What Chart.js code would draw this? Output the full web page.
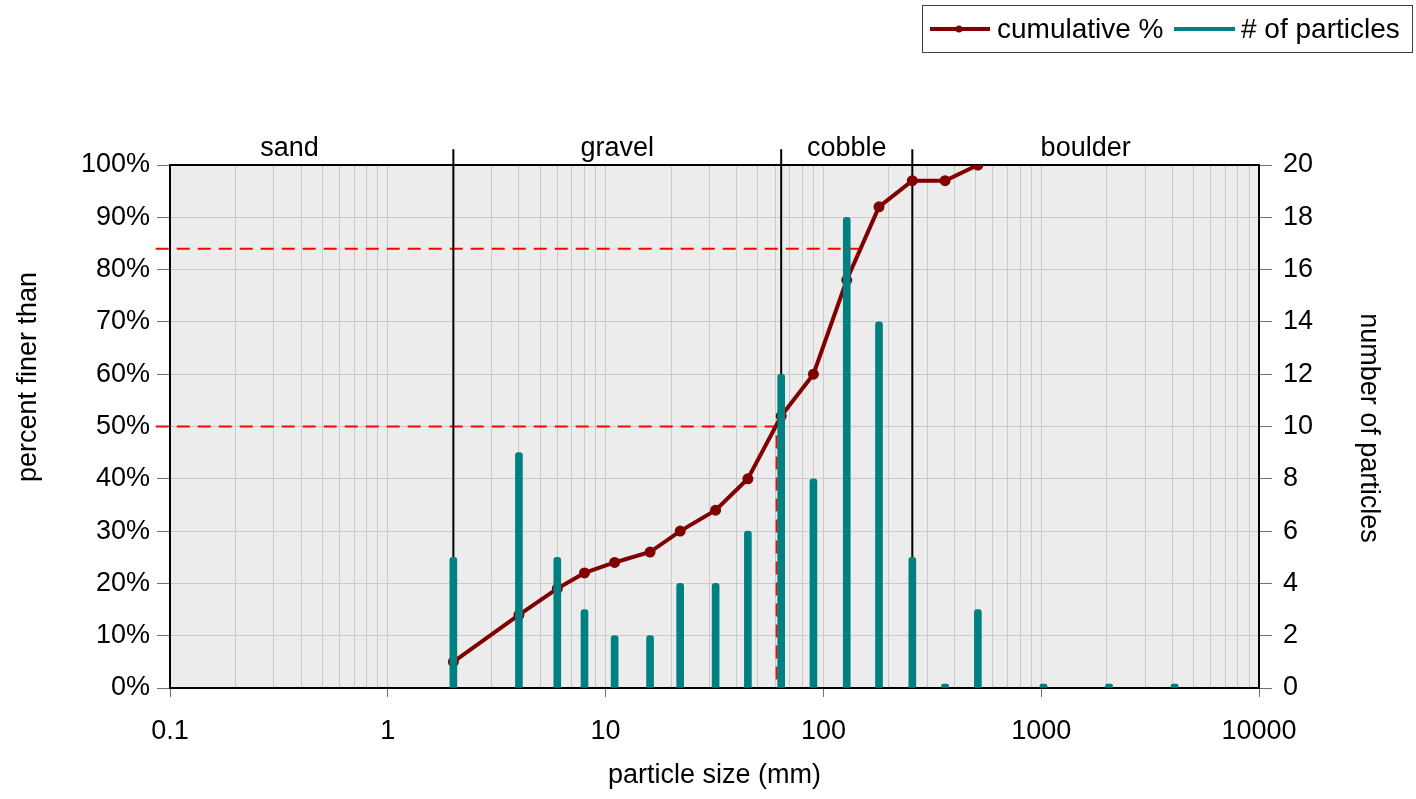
<!DOCTYPE html>
<html>
<head>
<meta charset="utf-8">
<script src="https://cdn.jsdelivr.net/npm/chart.js@4/dist/chart.umd.min.js"></script>
<style>
    html, body { margin: 0; padding: 0; background: #fff; }
    #wrap { width: 1416px; height: 799px; position: relative; }
</style>
</head>
<body>
<div id="wrap"><canvas id="chart" width="1416" height="799"></canvas></div>
<script>
// sieve sizes (mm) and cumulative percent finer
const sizes = [2, 4, 6, 8, 11, 16, 22, 32, 45, 64, 90, 128, 180, 256, 362, 512];
const cumulative = [5, 14, 19, 22, 24, 26, 30, 34, 40, 52, 60, 78, 92, 97, 97, 100];

// particle counts per size class
const countSizes = [2, 4, 6, 8, 11, 16, 22, 32, 45, 64, 90, 128, 180, 256, 362, 512, 1024, 2048, 4096];
const counts = [5, 9, 5, 3, 2, 2, 4, 4, 6, 12, 8, 18, 14, 5, 0, 3, 0, 0, 0];

// grain class boundaries and names
const classBounds = [2, 64, 256];
const classNames = ['sand', 'gravel', 'cobble', 'boulder'];
const classCenters = [0.354, 11.3, 128, 1600];

// D50 / D84 read from the dashed guides
const d50 = 61;
const d84 = 155;

const decades = [0.1, 1, 10, 100, 1000, 10000];
const decadeLabels = ['0.1', '1', '10', '100', '1000', '10000'];

const FONT = '"Liberation Sans", Arial, sans-serif';
const FS = 27;
const DARK_RED = '#800000';
const TEAL = '#008080';

function isDecade(v) {
    return decades.some(d => Math.abs(d - v) < d * 1e-6);
}

const boundaryData = [];
classBounds.forEach(b => {
    boundaryData.push({ x: b, y: 0 }, { x: b, y: 103 }, { x: null, y: null });
});

const chartDecor = {
    id: 'chartDecor',
    beforeDraw(chart) {
        const { ctx, chartArea: a } = chart;
        ctx.save();
        ctx.fillStyle = '#ececec';
        ctx.fillRect(a.left, a.top, a.right - a.left, a.bottom - a.top);
        ctx.restore();
    },
    beforeDatasetsDraw(chart) {
        const { ctx, chartArea: a } = chart;
        ctx.save();
        ctx.strokeStyle = '#000';
        ctx.lineWidth = 2;
        ctx.strokeRect(a.left, a.top, a.right - a.left, a.bottom - a.top);
        ctx.restore();
    },
    afterDraw(chart) {
        const { ctx, chartArea: a, scales } = chart;
        ctx.save();
        ctx.fillStyle = '#000';
        ctx.font = FS + 'px ' + FONT;
        ctx.textAlign = 'center';
        ctx.textBaseline = 'middle';

        // class names above the plot
        classNames.forEach((name, i) => {
            ctx.fillText(name, scales.x.getPixelForValue(classCenters[i]), a.top - 16);
        });

        // axis titles
        ctx.fillText('particle size (mm)', (a.left + a.right) / 2, 776);
        ctx.save();
        ctx.translate(29, 377);
        ctx.rotate(-Math.PI / 2);
        ctx.fillText('percent finer than', 0, 0);
        ctx.restore();
        ctx.save();
        ctx.translate(1368, 428);
        ctx.rotate(Math.PI / 2);
        ctx.fillText('number of particles', 0, 0);
        ctx.restore();

        // legend box
        ctx.strokeStyle = '#404040';
        ctx.lineWidth = 1;
        ctx.strokeRect(922.5, 5.5, 490, 47);
        const ly = 29;
        ctx.lineWidth = 4;
        ctx.strokeStyle = DARK_RED;
        ctx.beginPath(); ctx.moveTo(930, ly); ctx.lineTo(990, ly); ctx.stroke();
        ctx.fillStyle = DARK_RED;
        ctx.beginPath(); ctx.arc(959, ly, 3.5, 0, Math.PI * 2); ctx.fill();
        ctx.strokeStyle = TEAL;
        ctx.beginPath(); ctx.moveTo(1174, ly); ctx.lineTo(1235, ly); ctx.stroke();
        ctx.fillStyle = '#000';
        ctx.font = '28px ' + FONT;
        ctx.textAlign = 'left';
        ctx.fillText(chart.data.datasets[0].label, 997, ly + 1);
        ctx.fillText(chart.data.datasets[1].label, 1241, ly + 1);
        ctx.restore();
    }
};

const ctx = document.getElementById('chart');

new Chart(ctx, {
    type: 'bar',
    data: {
        datasets: [
            {
                type: 'line',
                label: 'cumulative %',
                data: sizes.map((s, i) => ({ x: s, y: cumulative[i] })),
                yAxisID: 'y',
                borderColor: DARK_RED,
                backgroundColor: DARK_RED,
                borderWidth: 4,
                pointRadius: 3.5,
                pointHoverRadius: 3.5,
                tension: 0,
                order: 2
            },
            {
                type: 'bar',
                label: '# of particles',
                data: countSizes.map((s, i) => ({ x: s, y: counts[i] })),
                yAxisID: 'y2',
                backgroundColor: TEAL,
                borderWidth: 0,
                barThickness: 7,
                minBarLength: 4,
                borderRadius: 3,
                borderSkipped: 'bottom',
                order: 1
            },
            {
                type: 'line',
                label: 'D50',
                data: [{ x: 0.086, y: 50 }, { x: d50, y: 50 }, { x: d50, y: 0 }],
                yAxisID: 'y',
                borderColor: '#ff0000',
                borderWidth: 2,
                borderDash: [13, 8],
                pointRadius: 0,
                clip: false,
                order: 4
            },
            {
                type: 'line',
                label: 'D84',
                data: [{ x: 0.086, y: 84 }, { x: d84, y: 84 }],
                yAxisID: 'y',
                borderColor: '#ff0000',
                borderWidth: 2,
                borderDash: [13, 8],
                pointRadius: 0,
                clip: false,
                order: 4
            },
            {
                type: 'line',
                label: 'classes',
                data: boundaryData,
                yAxisID: 'y',
                borderColor: '#000',
                borderWidth: 2,
                pointRadius: 0,
                spanGaps: false,
                clip: false,
                order: 3
            }
        ]
    },
    options: {
        responsive: false,
        animation: false,
        events: [],
        layout: { padding: { top: 165, left: 0, right: 0, bottom: 0 } },
        plugins: {
            legend: { display: false },
            tooltip: { enabled: false }
        },
        scales: {
            x: {
                type: 'logarithmic',
                min: 0.1,
                max: 10000,
                offset: false,
                afterFit: (s) => { s.height = 111; },
                afterBuildTicks: (s) => {
                    const t = [];
                    decades.slice(0, -1).forEach(d => {
                        for (let m = 1; m < 10; m++) t.push({ value: d * m });
                    });
                    t.push({ value: 10000 });
                    s.ticks = t;
                },
                border: { display: false },
                grid: {
                    offset: false,
                    color: '#cacaca',
                    lineWidth: 1,
                    tickLength: 9,
                    tickColor: (c) => (c.tick && isDecade(c.tick.value) ? '#707070' : 'rgba(0,0,0,0)')
                },
                ticks: {
                    autoSkip: false,
                    maxRotation: 0,
                    padding: 18,
                    color: '#000',
                    font: { family: FONT, size: FS },
                    callback: (v) => {
                        const i = decades.findIndex(d => Math.abs(d - v) < d * 1e-6);
                        return i >= 0 ? decadeLabels[i] : '';
                    }
                }
            },
            y: {
                position: 'left',
                min: 0,
                max: 100,
                afterFit: (s) => { s.width = 170; },
                border: { display: false },
                grid: { color: '#cacaca', tickLength: 13, tickColor: '#707070' },
                ticks: {
                    stepSize: 10,
                    padding: 7,
                    color: '#000',
                    font: { family: FONT, size: FS },
                    callback: (v) => v + '%'
                }
            },
            y2: {
                position: 'right',
                min: 0,
                max: 20,
                afterFit: (s) => { s.width = 157; },
                border: { display: false },
                grid: { drawOnChartArea: false, tickLength: 13, tickColor: '#707070' },
                ticks: {
                    stepSize: 2,
                    padding: 11,
                    color: '#000',
                    font: { family: FONT, size: FS }
                }
            }
        }
    },
    plugins: [chartDecor]
});
</script>
</body>
</html>
